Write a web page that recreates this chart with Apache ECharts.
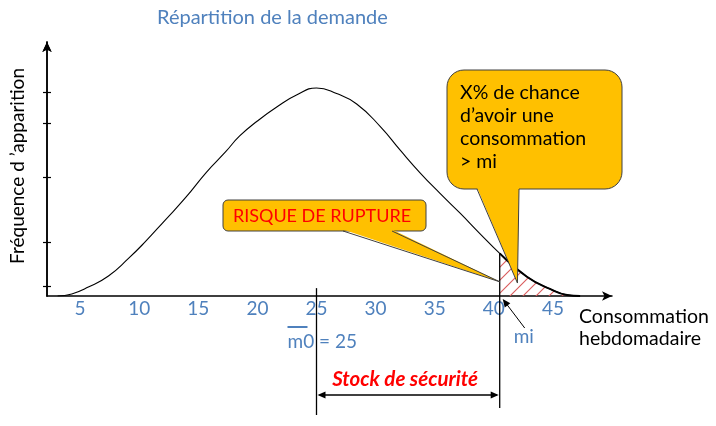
<!DOCTYPE html>
<html><head><meta charset="utf-8">
<script src="https://cdn.jsdelivr.net/npm/echarts/dist/echarts.min.js"></script>
<style>html,body{margin:0;padding:0;background:#fff}#c{width:716px;height:426px}</style>
</head><body><div id="c"></div>
<script>
// ---- data ----
const xTickLabels = [5, 10, 15, 20, 25, 30, 35, 40, 45];
const yTickValues = [3.7, 21.1, 46.7, 68, 80.2];
const demandX = [3.1, 4.3, 5.7, 7.4, 9.05, 10.5, 12.2, 13.9, 15.7, 17.3, 18.5, 20.0, 21.7, 23.35, 25.0, 26.7, 28.4, 30.4, 32.1, 33.8, 35.45, 37.15, 38.8, 40.5, 42.8, 44.75, 46.2, 47.3];
const demandY = [0, 0.8, 3.5, 7.9, 14.6, 21.3, 29.9, 38.6, 48.8, 56.7, 63.0, 68.9, 74.6, 79.2, 81.9, 79.7, 75.6, 66.7, 57.3, 48.3, 40.4, 32.6, 24.7, 16.8, 7.6, 2.8, 0.4, 0];
const tailX = [40.5, 42.8, 44.75, 46.2, 47.3];
const tailY = [16.8, 7.6, 2.8, 0.4, 0];
const m0 = 25;
const mi = 40.5;

const BLUE = '#4F81BD';
const FONT = 'Lato, "Noto Sans", sans-serif';

// hatch pattern for the tail area
const S = 13;
const pc = document.createElement('canvas');
pc.width = S; pc.height = S;
const g = pc.getContext('2d');
g.strokeStyle = '#D9595A'; g.lineWidth = 1.1;
g.beginPath(); g.moveTo(0, S); g.lineTo(S, 0); g.stroke();
g.beginPath(); g.moveTo(-1, 1); g.lineTo(1, -1); g.stroke();
g.beginPath(); g.moveTo(S - 1, S + 1); g.lineTo(S + 1, S - 1); g.stroke();

const demand = demandX.map((x, i) => [x, demandY[i]]);
const tail = tailX.map((x, i) => [x, tailY[i]]);

const yBase = {
  type: 'value', min: 0, max: 100, position: 'left',
  axisLine: { show: true, lineStyle: { color: '#000', width: 1.5 }, symbol: ['none', 'arrow'], symbolSize: [7, 10] },
  axisTick: { show: true, length: 4, lineStyle: { color: '#000', width: 1.2 }, customValues: yTickValues },
  axisLabel: { show: false },
  splitLine: { show: false }
};

const option = {
  animation: false,
  backgroundColor: '#fff',
  title: { text: 'Répartition de la demande', left: 152, top: 3,
    textStyle: { color: BLUE, fontFamily: FONT, fontSize: 20, fontWeight: 'normal' } },
  grid: { left: 47, right: 104, top: 42, bottom: 130, containLabel: false },
  xAxis: {
    type: 'value', min: 2.2, max: 50,
    axisLine: { show: true, lineStyle: { color: '#000', width: 1.5 }, symbol: ['none', 'arrow'], symbolSize: [7, 10] },
    axisTick: { show: false },
    axisLabel: { color: BLUE, fontFamily: FONT, fontSize: 19, margin: 3, customValues: xTickLabels },
    splitLine: { show: false }
  },
  yAxis: [
    yBase,
    Object.assign({}, yBase, { axisTick: Object.assign({}, yBase.axisTick, { inside: true }) })
  ],
  series: [
    { type: 'line', data: demand, smooth: 0.5, showSymbol: false,
      lineStyle: { color: '#000', width: 1.1 }, z: 3 },
    { type: 'line', data: tail, smooth: 0.5, showSymbol: false,
      lineStyle: { color: '#000', width: 2 },
      areaStyle: { color: { image: pc, repeat: 'repeat' }, opacity: 1 }, z: 2 }
  ]
};

const chart = echarts.init(document.getElementById('c'));
chart.setOption(option);
const p = (x, y) => chart.convertToPixel({ seriesIndex: 0 }, [x, y]);

const a25 = p(m0, 3.1);
const aMi = p(mi, 16.8);
const tip1 = p(mi, 5.6);
const tip2 = p(42.0, 5.1);
const CALL = '#FFC000', EDGE = '#404040';

function arrowHead(tx, ty, fx, fy, len, half) {
  const dx = tx - fx, dy = ty - fy, L = Math.hypot(dx, dy);
  const ux = dx / L, uy = dy / L;
  const bx = tx - ux * len, by = ty - uy * len;
  return [[tx, ty], [bx - uy * half, by + ux * half], [bx + uy * half, by - ux * half]];
}

const miArrowFrom = [aMi[0] + 25, 328], miArrowTo = [aMi[0] + 3, 299];

const graphic = [
  // y axis name
  { type: 'text', x: 18, y: 166, rotation: Math.PI / 2, z: 50,
    style: { text: 'Fréquence d \u2019apparition', fill: '#000', font: '19px ' + FONT, textAlign: 'center', textVerticalAlign: 'middle' } },
  // x axis name
  { type: 'text', x: 579, y: 306, z: 50,
    style: { text: 'Consommation\nhebdomadaire', fill: '#000', font: '19.5px ' + FONT, lineHeight: 22, textAlign: 'left', textVerticalAlign: 'top' } },
  // vertical lines
  { type: 'line', z: 50, shape: { x1: a25[0], y1: a25[1], x2: a25[0], y2: 415 }, style: { stroke: '#000', lineWidth: 1.3 } },
  { type: 'line', z: 50, shape: { x1: aMi[0], y1: aMi[1], x2: aMi[0], y2: 408 }, style: { stroke: '#000', lineWidth: 1.3 } },
  // double arrow
  { type: 'line', z: 50, shape: { x1: a25[0] + 3, y1: 395, x2: aMi[0] - 3, y2: 395 }, style: { stroke: '#000', lineWidth: 1.3 } },
  { type: 'polygon', z: 50, shape: { points: [[a25[0] + 1, 395], [a25[0] + 9, 391.5], [a25[0] + 9, 398.5]] }, style: { fill: '#000' } },
  { type: 'polygon', z: 50, shape: { points: [[aMi[0] - 1, 395], [aMi[0] - 9, 391.5], [aMi[0] - 9, 398.5]] }, style: { fill: '#000' } },
  { type: 'text', z: 50, x: (a25[0] + aMi[0]) / 2 - 3, y: 379,
    style: { text: 'Stock de sécurité', fill: '#FF0000', font: 'italic bold 20.5px ' + FONT, textAlign: 'center', textVerticalAlign: 'middle' } },
  // m0 = 25
  { type: 'text', z: 50, x: a25[0] - 29, y: 342,
    style: { text: 'm0 = 25', fill: BLUE, font: '19px ' + FONT, textAlign: 'left', textVerticalAlign: 'middle' } },
  { type: 'line', z: 50, shape: { x1: a25[0] - 29, y1: 327, x2: a25[0] - 9, y2: 327 }, style: { stroke: BLUE, lineWidth: 2 } },
  // mi
  { type: 'text', z: 50, x: aMi[0] + 14, y: 337,
    style: { text: 'mi', fill: BLUE, font: '19px ' + FONT, textAlign: 'left', textVerticalAlign: 'middle' } },
  { type: 'line', z: 50, shape: { x1: miArrowFrom[0], y1: miArrowFrom[1], x2: miArrowTo[0] + 2, y2: miArrowTo[1] + 2.6 }, style: { stroke: '#000', lineWidth: 1 } },
  { type: 'polygon', z: 50, shape: { points: arrowHead(miArrowTo[0], miArrowTo[1], miArrowFrom[0], miArrowFrom[1], 8, 3.5) }, style: { fill: '#000' } },
  // callout RISQUE DE RUPTURE
  { type: 'rect', z: 60, shape: { x: 223, y: 200, width: 203, height: 31, r: 5 }, style: { fill: CALL, stroke: EDGE, lineWidth: 1 } },
  { type: 'polygon', z: 61, shape: { points: [[343, 229.5], [392, 229.5], tip1] }, style: { fill: CALL } },
  { type: 'polyline', z: 62, shape: { points: [[343, 231], tip1, [392, 231]] }, style: { stroke: EDGE, lineWidth: 1, fill: null } },
  { type: 'text', z: 63, x: 322, y: 216,
    style: { text: 'RISQUE DE RUPTURE', fill: '#FF0000', font: '18px ' + FONT, textAlign: 'center', textVerticalAlign: 'middle' } },
  // callout X%
  { type: 'rect', z: 70, shape: { x: 447, y: 70, width: 175, height: 119, r: 17 }, style: { fill: CALL, stroke: EDGE, lineWidth: 1 } },
  { type: 'polygon', z: 71, shape: { points: [[477, 187.5], [519, 187.5], tip2] }, style: { fill: CALL } },
  { type: 'polyline', z: 72, shape: { points: [[477, 189], tip2, [519, 189]] }, style: { stroke: EDGE, lineWidth: 1, fill: null } },
  { type: 'text', z: 73, x: 460, y: 81,
    style: { text: 'X% de chance\nd\u2019avoir une\nconsommation\n> mi', fill: '#000', font: '19.5px ' + FONT, lineHeight: 23, textAlign: 'left', textVerticalAlign: 'top' } }
];

chart.setOption({ graphic: graphic });
</script></body></html>
